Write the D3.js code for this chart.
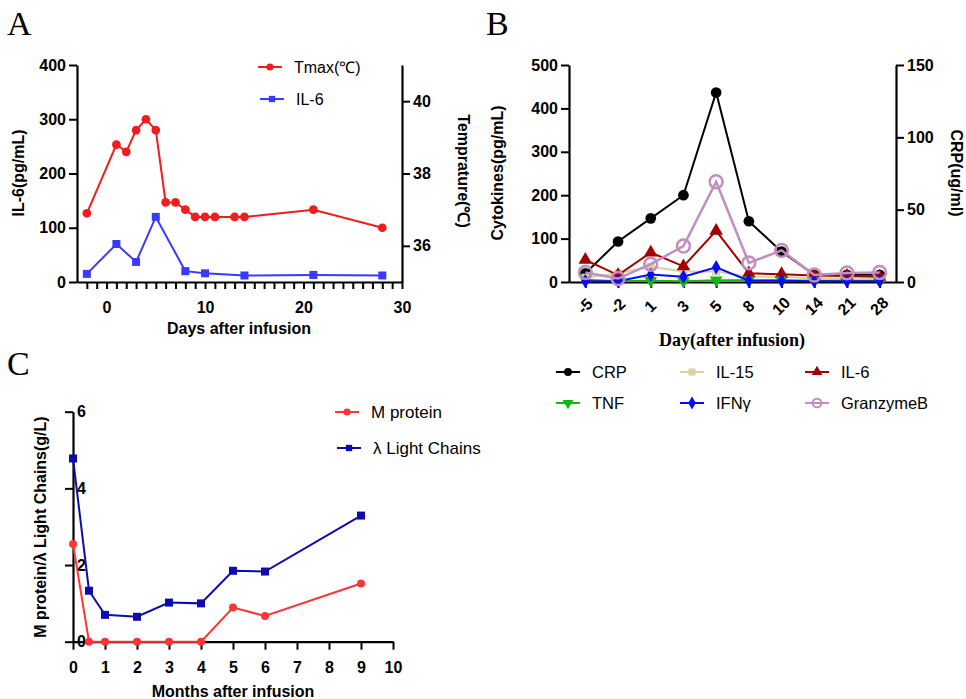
<!DOCTYPE html>
<html>
<head>
<meta charset="utf-8">
<script src="https://cdn.jsdelivr.net/npm/d3@7"></script>
<style>
  body { margin: 0; background: #fff; }
  svg { display: block; }
  .tick text { font-family: "Liberation Sans", Arial, sans-serif; font-weight: bold; font-size: 16px; fill: #000; }
</style>
</head>
<body>
<div id="chart"></div>
<script>
// ---- data ----
// Panel A
const daysTemp = [-2, 1, 2, 3, 4, 5, 6, 7, 8, 9, 10, 11, 13, 14, 21, 28];
const tmaxValues = [36.9, 38.8, 38.6, 39.2, 39.5, 39.2, 37.2, 37.2, 37.0, 36.8, 36.8, 36.8, 36.8, 36.8, 37.0, 36.5];
const daysIL6 = [-2, 1, 3, 5, 8, 10, 14, 21, 28];
const il6Values = [15, 70, 37, 120, 20, 16, 12, 13, 12];

// Panel B
const dayLabels = ['-5', '-2', '1', '3', '5', '8', '10', '14', '21', '28'];
const crpValues = [6, 28, 44, 60, 131, 42, 21, 5, 5, 5];
const il15Values = [10, 20, 35, 24, 24, 12, 12, 8, 8, 8];
const il6BValues = [51, 16, 68, 36, 118, 20, 18, 15, 14, 12];
const tnfValues = [5, 2, 3, 2, 4, 4, 4, 3, 3, 3];
const ifngValues = [2, 2, 17, 12, 34, 3, 3, 2, 2, 2];
const granzymeValues = [22, 8, 41, 83, 231, 44, 73, 16, 21, 22];

// Panel C
const months = [0, 0.5, 1, 2, 3, 4, 5, 6, 9];
const mProtein = [2.55, 0, 0, 0, 0, 0, 0.89, 0.67, 1.52];
const lightChains = [4.78, 1.33, 0.70, 0.65, 1.02, 1.0, 1.85, 1.83, 3.29];

const SANS = '"Liberation Sans", Arial, sans-serif';
const SERIF = '"Liberation Serif", "Times New Roman", serif';
const intFmt = d3.format('d');

const svg = d3.select('#chart').append('svg')
  .attr('width', 966).attr('height', 699);

// helper: draws a line series with symbol markers
function drawSeries(g, pts, opts) {
  g.append('path')
    .datum(pts)
    .attr('fill', 'none')
    .attr('stroke', opts.color)
    .attr('stroke-width', opts.width || 2)
    .attr('d', d3.line().x(d => d[0]).y(d => d[1]));
  g.selectAll(null).data(pts).join('path')
    .attr('transform', d => `translate(${d[0]},${d[1]})${opts.rotate ? ' rotate(180)' : ''}`)
    .attr('d', d3.symbol().type(opts.symbol).size(opts.size || 64))
    .attr('fill', opts.open ? 'none' : opts.color)
    .attr('stroke', opts.open ? opts.color : 'none')
    .attr('stroke-width', opts.open ? 2.5 : 0);
}

function legendItem(g, x, y, label, opts, fontSize) {
  g.append('line').attr('x1', x).attr('x2', x + 24).attr('y1', y).attr('y2', y)
    .attr('stroke', opts.color).attr('stroke-width', 2);
  g.append('path')
    .attr('transform', `translate(${x + 12},${y})${opts.rotate ? ' rotate(180)' : ''}`)
    .attr('d', d3.symbol().type(opts.symbol).size(opts.lsize || 40))
    .attr('fill', opts.open ? 'none' : opts.color)
    .attr('stroke', opts.open ? opts.color : 'none')
    .attr('stroke-width', opts.open ? 2 : 0);
  g.append('text').attr('x', x + 36).attr('y', y).attr('dy', '0.35em')
    .attr('font-family', SANS).attr('font-size', fontSize || 16)
    .text(label);
}

function styleAxis(sel) {
  sel.select('.domain').attr('stroke', '#000').attr('stroke-width', 2.2);
  sel.selectAll('.tick line').attr('stroke', '#000').attr('stroke-width', 2);
}

function panelLabel(x, y, t) {
  svg.append('text').attr('x', x).attr('y', y)
    .attr('font-family', SERIF).attr('font-size', 34).text(t);
}

// ================= Panel A =================
const gA = svg.append('g');
const xA = d3.scaleLinear().domain([-3, 30]).range([77, 402]);
const yA = d3.scaleLinear().domain([0, 400]).range([282, 65]);
const yTemp = d3.scaleLinear().domain([35, 41]).range([282, 65]);

gA.append('g').attr('transform', 'translate(0,282)')
  .call(d3.axisBottom(xA).tickValues(d3.range(-2, 31)).tickSize(7)
    .tickFormat(d => d % 10 === 0 ? d : '').tickSizeOuter(0))
  .call(styleAxis)
  .call(g => g.selectAll('.tick text').attr('dy', '1.3em'));
gA.append('g').attr('transform', 'translate(77,0)')
  .call(d3.axisLeft(yA).tickValues([0, 100, 200, 300, 400]).tickFormat(intFmt).tickSize(8).tickSizeOuter(0))
  .call(styleAxis);
gA.append('g').attr('transform', 'translate(402,0)')
  .call(d3.axisRight(yTemp).tickValues([36, 38, 40]).tickFormat(intFmt).tickSize(8).tickSizeOuter(0))
  .call(styleAxis);

drawSeries(gA, daysTemp.map((d, i) => [xA(d), yTemp(tmaxValues[i])]),
  { color: '#f21c1c', symbol: d3.symbolCircle, size: 60 });
drawSeries(gA, daysIL6.map((d, i) => [xA(d), yA(il6Values[i])]),
  { color: '#3a3aff', symbol: d3.symbolSquare, size: 64 });

legendItem(gA, 258, 67, 'Tmax(℃)', { color: '#f21c1c', symbol: d3.symbolCircle });
legendItem(gA, 260, 99, 'IL-6', { color: '#3a3aff', symbol: d3.symbolSquare });

gA.append('text').attr('transform', 'translate(24,173) rotate(-90)')
  .attr('text-anchor', 'middle').attr('font-family', SANS).attr('font-weight', 'bold')
  .attr('font-size', 16).text('IL-6(pg/mL)');
gA.append('text').attr('transform', 'translate(458,171) rotate(90)')
  .attr('text-anchor', 'middle').attr('font-family', SANS).attr('font-weight', 'bold')
  .attr('font-size', 16).text('Temprature(℃)');
gA.append('text').attr('x', 239).attr('y', 334)
  .attr('text-anchor', 'middle').attr('font-family', SANS).attr('font-weight', 'bold')
  .attr('font-size', 16).text('Days after infusion');
panelLabel(7, 35, 'A');

// ================= Panel B =================
const gB = svg.append('g');
const xB = d3.scalePoint().domain(dayLabels).range([569, 896]).padding(0.5);
const yB = d3.scaleLinear().domain([0, 500]).range([282, 65]);
const yCRP = d3.scaleLinear().domain([0, 150]).range([282, 65]);

gB.append('g').attr('transform', 'translate(0,282)')
  .call(d3.axisBottom(xB).tickSize(6).tickSizeOuter(0))
  .call(styleAxis)
  .call(g => g.selectAll('.tick text')
    .attr('font-size', 15)
    .attr('text-anchor', 'middle')
    .attr('y', 0).attr('dy', 0)
    .attr('transform', 'translate(0,25) rotate(-45)')
    .attr('dominant-baseline', 'middle'));
gB.append('g').attr('transform', 'translate(569,0)')
  .call(d3.axisLeft(yB).tickValues([0, 100, 200, 300, 400, 500]).tickFormat(intFmt).tickSize(8).tickSizeOuter(0))
  .call(styleAxis);
gB.append('g').attr('transform', 'translate(896,0)')
  .call(d3.axisRight(yCRP).tickValues([0, 50, 100, 150]).tickFormat(intFmt).tickSize(8).tickSizeOuter(0))
  .call(styleAxis);

const seriesB = [
  { name: 'CRP', values: crpValues, scale: yCRP, color: '#000000', symbol: d3.symbolCircle, size: 90 },
  { name: 'IL-15', values: il15Values, scale: yB, color: '#d8d3a2', symbol: d3.symbolSquare, size: 64 },
  { name: 'IL-6', values: il6BValues, scale: yB, color: '#a30000', symbol: d3.symbolTriangle, size: 80 },
  { name: 'TNF', values: tnfValues, scale: yB, color: '#12b812', symbol: d3.symbolTriangle, size: 70, rotate: true },
  { name: 'IFNγ', values: ifngValues, scale: yB, color: '#0a0aff', symbol: d3.symbolDiamond, size: 60 },
  { name: 'GranzymeB', values: granzymeValues, scale: yB, color: '#c28dbf', symbol: d3.symbolCircle, size: 130, open: true, width: 2.5 }
];
seriesB.forEach(s => {
  drawSeries(gB, dayLabels.map((d, i) => [xB(d), s.scale(s.values[i])]), s);
});

// legend B (3 columns x 2 rows)
const legX = [556, 680, 805];
const legY = [372, 403];
seriesB.forEach((s, i) => {
  legendItem(gB, legX[i % 3], legY[Math.floor(i / 3)], s.name,
    { color: s.color, symbol: s.symbol, rotate: s.rotate, open: s.open, lsize: s.open ? 60 : 50 }, 16.5);
});

gB.append('text').attr('transform', 'translate(503,173) rotate(-90)')
  .attr('text-anchor', 'middle').attr('font-family', SANS).attr('font-weight', 'bold')
  .attr('font-size', 16).text('Cytokines(pg/mL)');
gB.append('text').attr('transform', 'translate(951,173) rotate(90)')
  .attr('text-anchor', 'middle').attr('font-family', SANS).attr('font-weight', 'bold')
  .attr('font-size', 16).text('CRP(ug/ml)');
gB.append('text').attr('x', 732).attr('y', 346)
  .attr('text-anchor', 'middle').attr('font-family', SERIF).attr('font-weight', 'bold')
  .attr('font-size', 18).text('Day(after infusion)');
panelLabel(486, 35, 'B');

// ================= Panel C =================
const gC = svg.append('g');
const xC = d3.scaleLinear().domain([0, 10]).range([73, 393]);
const yC = d3.scaleLinear().domain([0, 6]).range([641.7, 411.7]);

gC.append('g').attr('transform', 'translate(0,641.7)')
  .call(d3.axisBottom(xC).ticks(10).tickFormat(intFmt).tickSize(8).tickSizeOuter(0))
  .call(styleAxis)
  .call(g => g.selectAll('.tick text').attr('dy', '1.25em'));
gC.append('g').attr('transform', 'translate(73,0)')
  .call(d3.axisLeft(yC).tickValues([0, 2, 4, 6]).tickFormat(intFmt).tickSize(8).tickSizeOuter(0))
  .call(styleAxis)
  .call(g => g.selectAll('.tick text').attr('x', 4).attr('text-anchor', 'start'));

drawSeries(gC, months.map((m, i) => [xC(m), yC(mProtein[i])]),
  { color: '#ff3535', symbol: d3.symbolCircle, size: 50 });
drawSeries(gC, months.map((m, i) => [xC(m), yC(lightChains[i])]),
  { color: '#0b0bb0', symbol: d3.symbolSquare, size: 64 });

legendItem(gC, 335, 412, 'M protein', { color: '#ff3535', symbol: d3.symbolCircle }, 17);
legendItem(gC, 337, 448, 'λ Light Chains', { color: '#0b0bb0', symbol: d3.symbolSquare }, 17);

gC.append('text').attr('transform', 'translate(46,527) rotate(-90)')
  .attr('text-anchor', 'middle').attr('font-family', SANS).attr('font-weight', 'bold')
  .attr('font-size', 16).text('M protein/λ Light Chains(g/L)');
gC.append('text').attr('x', 233).attr('y', 697)
  .attr('text-anchor', 'middle').attr('font-family', SANS).attr('font-weight', 'bold')
  .attr('font-size', 16).text('Months after infusion');
panelLabel(7, 375, 'C');
</script>
</body>
</html>
